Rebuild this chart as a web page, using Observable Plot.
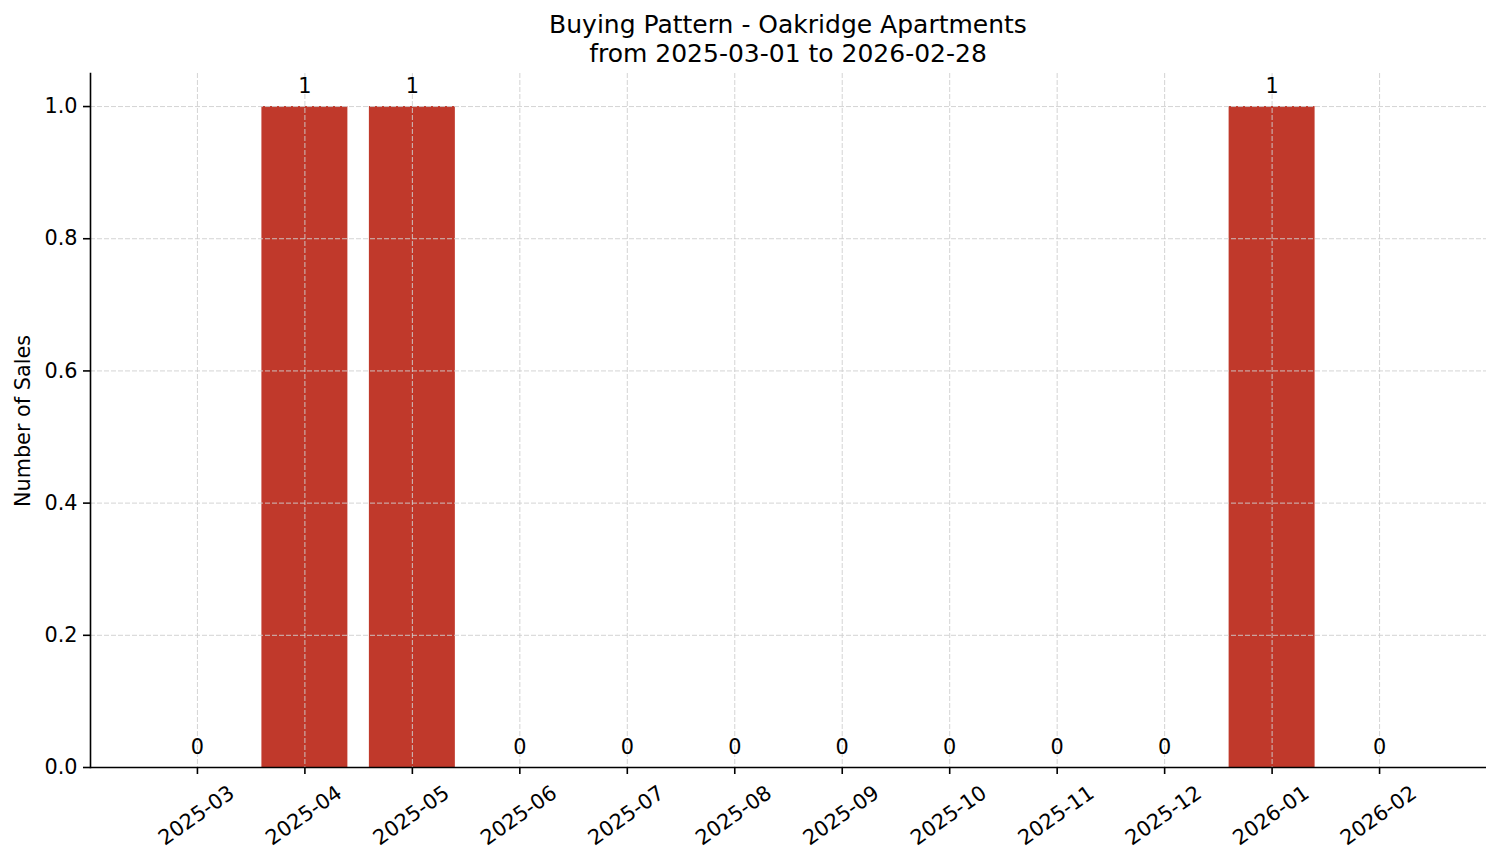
<!DOCTYPE html>
<html>
<head>
<meta charset="utf-8">
<script src="https://cdn.jsdelivr.net/npm/d3@7"></script>
<script src="https://cdn.jsdelivr.net/npm/@observablehq/plot@0.6"></script>
<style>
  body { margin: 0; background: #fff; font-family: "DejaVu Sans", sans-serif; }
  #title { height: 60px; margin-left: 90px; width: 1396px; text-align: center; font-size: 25px; line-height: 28.5px; padding-top: 11px; box-sizing: border-box; color: #000; }
  svg { display: block; }
</style>
</head>
<body>
<div id="title">Buying Pattern - Oakridge Apartments<br>from 2025-03-01 to 2026-02-28</div>
<div id="chart"></div>
<script>
const months = ["2025-03","2025-04","2025-05","2025-06","2025-07","2025-08","2025-09","2025-10","2025-11","2025-12","2026-01","2026-02"];
const sales = [0,1,1,0,0,0,0,0,0,0,1,0];
const yTicks = [0,0.2,0.4,0.6,0.8,1.0];
const barColor = "#c0392b";

const data = months.map((m, i) => ({month: m, sales: sales[i]}));
const gridStyle = {stroke: "#cfcfcf", strokeWidth: 0.9, strokeDasharray: "5,2"};

const chart = Plot.plot({
  width: 1501,
  height: 803,
  marginLeft: 90,
  marginRight: 15,
  marginTop: 13,
  marginBottom: 96,
  style: {fontFamily: "DejaVu Sans, sans-serif", fontSize: "20.8px", color: "#000", background: "#fff"},
  x: {type: "band", domain: months, paddingInner: 0.2, paddingOuter: 0.595, align: 0.5, round: false, label: null},
  y: {domain: [0, 1.05], label: null},
  marks: [
    Plot.barY(data, {x: "month", y: "sales", fill: barColor}),
    Plot.ruleY(yTicks, gridStyle),
    Plot.ruleX(months, {x: d => d, ...gridStyle}),
    Plot.text(data, {x: "month", y: "sales", text: d => String(d.sales), dy: -20, fontSize: 20.8, fill: "#000"}),
    Plot.axisY({ticks: yTicks, tickFormat: d3.format(".1f"), tickSize: 7, tickPadding: 6, fontSize: 20.8, strokeWidth: 1.6, label: null}),
    Plot.axisX({tickSize: 7, tickFormat: () => "", strokeWidth: 1.6, label: null}),
    Plot.text(months, {x: d => d, text: d => d, frameAnchor: "bottom", dy: 48, dx: -1, rotate: -35, textAnchor: "middle", lineAnchor: "middle", fontSize: 20.8, fill: "#000"}),
    Plot.ruleY([0], {stroke: "#000", strokeWidth: 1.6}),
    Plot.frame({anchor: "left", stroke: "#000", strokeWidth: 1.6})
  ]
});
document.getElementById("chart").appendChild(chart);

// y axis label
const svg = d3.select(chart);
svg.append("text")
  .attr("transform", `translate(23, ${361}) rotate(-90)`)
  .attr("text-anchor", "middle")
  .attr("dominant-baseline", "central")
  .attr("font-size", "20.8px")
  .attr("font-family", "DejaVu Sans, sans-serif")
  .attr("fill", "#000")
  .text("Number of Sales");
</script>
</body>
</html>
